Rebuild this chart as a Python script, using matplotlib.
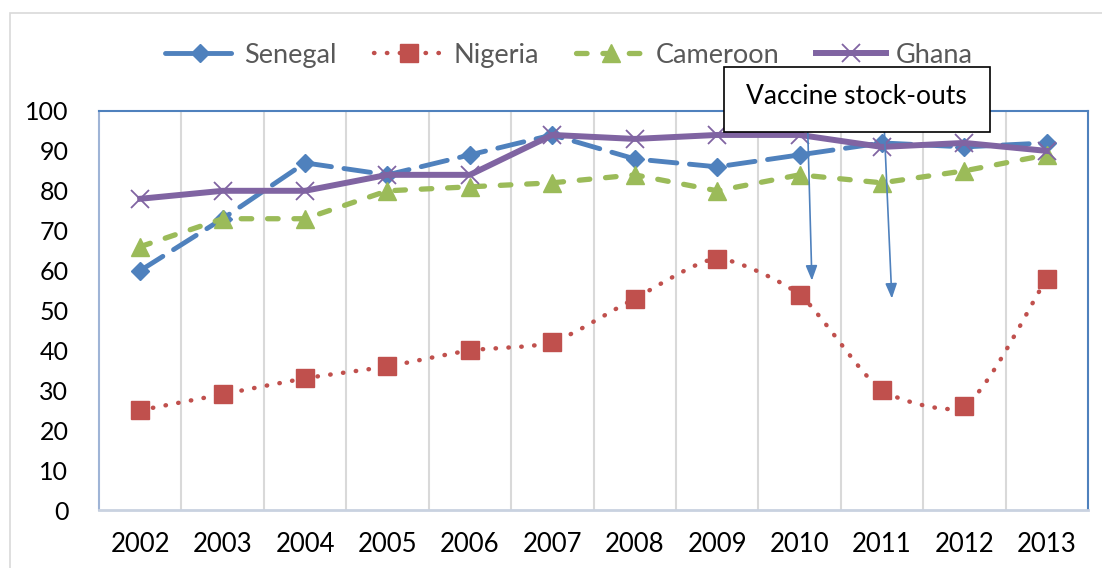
import numpy as np
import matplotlib.pyplot as plt
from matplotlib.lines import Line2D
from matplotlib.patches import PathPatch, Rectangle
from matplotlib.path import Path

plt.rcParams['font.family'] = ['Lato', 'DejaVu Sans']

years = ['2002', '2003', '2004', '2005', '2006', '2007',
         '2008', '2009', '2010', '2011', '2012', '2013']
senegal = [60, 73, 87, 84, 89, 94, 88, 86, 89, 92, 91, 92]
nigeria = [25, 29, 33, 36, 40, 42, 53, 63, 54, 30, 26, 58]
cameroon = [66, 73, 73, 80, 81, 82, 84, 80, 84, 82, 85, 89]
ghana = [78, 80, 80, 84, 84, 94, 93, 94, 94, 91, 92, 90]

# annotation arrows: (start x, start y, end x, end y) in data units
arrows = [(8.10, 94.7, 8.15, 57.5), (9.03, 94.7, 9.12, 53.0)]

blue = '#4F81BD'
red = '#C0504D'
green = '#9BBB59'
purple = '#8064A2'

fig = plt.figure(figsize=(11.02, 5.68), dpi=100)
ax = fig.add_axes([99 / 1102, 1 - 510 / 568, 989 / 1102, 399 / 568])

x = np.arange(len(years))

# chart area border
fig.patches.append(Rectangle((10 / 1102, -0.2), 1.2, 0.2 + 1 - 13 / 568,
                             transform=fig.transFigure, fill=False,
                             edgecolor='#D9D9D9', lw=1.2, zorder=0))


def smooth_path(xs, ys, sx, sy, s=0.2):
    # bezier curve through points (excel-like smoothed line)
    px = np.asarray(xs, float) * sx
    py = np.asarray(ys, float) * sy
    n = len(px)
    tx, ty = np.zeros(n), np.zeros(n)
    for i in range(n):
        a = max(i - 1, 0)
        b = min(i + 1, n - 1)
        dx, dy = px[b] - px[a], py[b] - py[a]
        d = np.hypot(dx, dy)
        tx[i], ty[i] = dx / d, dy / d
    verts = [(px[0], py[0])]
    codes = [Path.MOVETO]
    for i in range(n - 1):
        L = np.hypot(px[i + 1] - px[i], py[i + 1] - py[i])
        verts.append((px[i] + tx[i] * L * s, py[i] + ty[i] * L * s))
        verts.append((px[i + 1] - tx[i + 1] * L * s, py[i + 1] - ty[i + 1] * L * s))
        verts.append((px[i + 1], py[i + 1]))
        codes += [Path.CURVE4] * 3
    verts = np.array(verts)
    verts[:, 0] /= sx
    verts[:, 1] /= sy
    return Path(verts, codes)


ax.set_xlim(-0.5, len(years) - 0.5)
ax.set_ylim(0, 100)

# pixel scale per data unit for smoothing
sx = 989 / len(years)
sy = 399 / 100

sen_ls = (0, (5.5, 2.6))
cam_ls = (0, (2.0, 3.0))
nig_ls = (0, (0.1, 2.8))

ax.plot(x, senegal, color=blue, lw=3.5, ls=sen_ls, dash_capstyle='round',
        marker='D', ms=9.5, mec=blue, mfc=blue, zorder=3)
nig_path = smooth_path(x, nigeria, sx, sy)
ax.add_patch(PathPatch(nig_path, fill=False, edgecolor=red, lw=3.2,
                       ls=nig_ls, capstyle='round', zorder=3))
ax.plot(x, nigeria, ls='none', marker='s', ms=12.5, mfc=red, mec=red, zorder=4)
ax.plot(x, cameroon, color=green, lw=3.8, ls=cam_ls, dash_capstyle='round',
        marker='^', ms=12.5, mec=green, mfc=green, zorder=3)
ax.plot(x, ghana, color=purple, lw=4.3, marker='x', ms=13, mew=1.3,
        mec=purple, zorder=5)

for x0, y0, x1, y1 in arrows:
    ax.annotate('', xy=(x1, y1), xytext=(x0, y0),
                arrowprops=dict(arrowstyle='-|>,head_length=0.9,head_width=0.35',
                                color=blue, lw=1.2, shrinkA=0, shrinkB=0),
                zorder=6)

ax.set_xticks(x)
ax.set_xticklabels(years)
ax.set_xticks(x[:-1] + 0.5, minor=True)
ax.set_yticks(np.arange(0, 101, 10))
ax.grid(True, which='minor', axis='x', color='#D9D9D9', lw=1.5)
ax.tick_params(which='both', length=0)
ax.tick_params(axis='y', labelsize=18, pad=22)
ax.tick_params(axis='x', labelsize=18.5, pad=16)

ax.spines['top'].set_color(blue)
ax.spines['right'].set_color(blue)
ax.spines['top'].set_linewidth(1.5)
ax.spines['right'].set_linewidth(1.5)
ax.spines['left'].set_color('#9FB4D6')
ax.spines['bottom'].set_color('#C9D2E0')
ax.spines['left'].set_linewidth(1.5)
ax.spines['bottom'].set_linewidth(2)

handles = [
    Line2D([], [], color=blue, lw=3.5, ls=sen_ls, dash_capstyle='round',
           marker='D', ms=9.5, mfc=blue, mec=blue),
    Line2D([], [], color=red, lw=3.2, ls=nig_ls, dash_capstyle='round',
           marker='s', ms=12.5, mfc=red, mec=red),
    Line2D([], [], color=green, lw=3.8, ls=cam_ls, dash_capstyle='round',
           marker='^', ms=12.5, mfc=green, mec=green),
    Line2D([], [], color=purple, lw=4.3, marker='x', ms=13, mew=1.3, mec=purple),
]
leg = fig.legend(handles, ['Senegal', 'Nigeria', 'Cameroon', 'Ghana'],
                 loc='center', bbox_to_anchor=(0.516, 1 - 55 / 568), ncol=4,
                 frameon=False, fontsize=19.5, handlelength=2.6,
                 handletextpad=0.35, columnspacing=1.35)
for t in leg.get_texts():
    t.set_color('#595959')

# callout box
fig.patches.append(Rectangle((724 / 1102, 1 - 132 / 568), 266 / 1102, 65 / 568,
                             transform=fig.transFigure, facecolor='white',
                             edgecolor='black', lw=1.2, zorder=10))
fig.text(856 / 1102, 1 - 97 / 568, 'Vaccine stock-outs', ha='center', va='center',
         fontsize=19, color='black', zorder=11)

fig.savefig('out.png', dpi=100)
